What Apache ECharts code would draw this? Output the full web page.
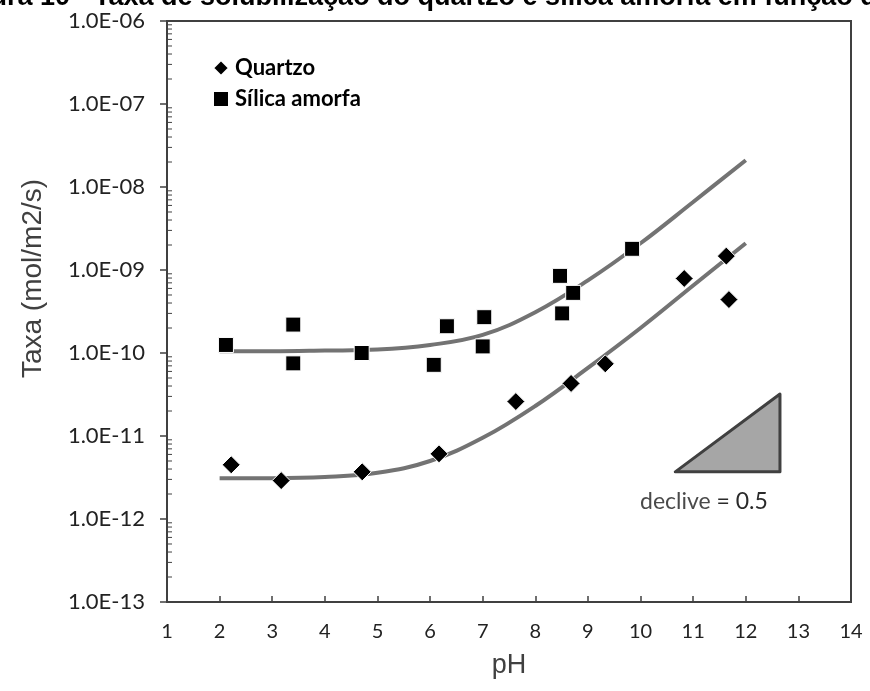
<!DOCTYPE html>
<html>
<head>
<meta charset="utf-8">
<script src="https://cdn.jsdelivr.net/npm/echarts@6/dist/echarts.min.js"></script>
<style>html,body{margin:0;padding:0;background:#fff}#c{width:870px;height:691px}</style>
</head>
<body>
<div id="c"></div>
<script>
// ---- data ----
const titleText = 'Figura 10 - Taxa de solubilização do quartzo e sílica amorfa em função do pH';
const quartzPH   = [2.22, 3.17, 4.71, 6.17, 7.63, 8.68, 9.33, 10.83, 11.63, 11.68];
const quartzRate = [4.5e-12, 2.9e-12, 3.7e-12, 6.1e-12, 2.6e-11, 4.3e-11, 7.4e-11, 7.9e-10, 1.47e-9, 4.4e-10];
const silicaPH   = [2.12, 3.4, 3.4, 4.7, 6.07, 6.32, 7.03, 7.0, 8.47, 8.72, 8.51, 9.84];
const silicaRate = [1.25e-10, 2.2e-10, 7.5e-11, 1.0e-10, 7.2e-11, 2.1e-10, 2.7e-10, 1.2e-10, 8.5e-10, 5.3e-10, 3.0e-10, 1.8e-9];
const curvePH         = [2, 3, 4, 5, 6, 7, 8, 9, 10, 11, 12];
const silicaCurveRate = [1.05e-10, 1.05e-10, 1.07e-10, 1.1e-10, 1.25e-10, 1.65e-10, 3.1e-10, 7.5e-10, 2.1e-9, 6.6e-9, 2.1e-8];
const quartzCurveRate = [3.1e-12, 3.1e-12, 3.2e-12, 3.6e-12, 5.0e-12, 9.5e-12, 2.3e-11, 6.6e-11, 2.0e-10, 6.5e-10, 2.1e-9];
const trianglePH   = [10.66, 12.65, 12.65];
const triangleRate = [3.7e-12, 3.2e-11, 3.7e-12];
const xTicks = [1, 14, 1];          // min, max, interval
const yTicks = [1e-13, 1e-6];       // min, max
const slopeLabel = ['declive', ' = 0.5'];
const seriesNames = ['Quartzo', 'Sílica amorfa'];
const yName = 'Taxa (mol/m2/s)';
const xName = 'pH';

const zip = (a, b) => a.map((v, i) => [v, b[i]]);

// minor tick values (axis decoration, log-spaced)
const minorTicks = [];
for (let e = -13; e < -6; e++) for (let m = 2; m <= 9; m++) minorTicks.push(m * Math.pow(10, e));

const labelFont = 'Lato, "Open Sans", sans-serif';
const arial = '"Liberation Sans", Arial, sans-serif';
const chart = echarts.init(document.getElementById('c'), null, {renderer: 'canvas'});
chart.setOption({
  animation: false,
  backgroundColor: '#fff',
  title: {
    text: titleText, left: -55, top: -21,
    textStyle: {fontFamily: arial, fontWeight: 'bold', fontSize: 27, color: '#000'}
  },
  grid: {left: 167, right: 19, top: 21, bottom: 89, show: true, borderColor: '#404040', borderWidth: 2, backgroundColor: 'transparent'},
  legend: {
    orient: 'vertical', left: 207, top: 52, itemWidth: 16, itemHeight: 16, itemGap: 9,
    data: [{name: seriesNames[0], icon: 'diamond'}, {name: seriesNames[1], icon: 'rect'}],
    itemStyle: {color: '#000', opacity: 1},
    textStyle: {fontFamily: labelFont, fontWeight: 'bold', fontSize: 22, color: '#000', padding: [0, 0, 0, 1]}
  },
  xAxis: {
    type: 'value', min: xTicks[0], max: xTicks[1], interval: xTicks[2],
    name: xName, nameLocation: 'middle', nameGap: 50,
    nameTextStyle: {fontFamily: arial, fontSize: 27, color: '#404040'},
    axisLine: {lineStyle: {color: '#404040', width: 2}},
    axisTick: {inside: true, length: 6, lineStyle: {color: '#404040', width: 1.5}},
    axisLabel: {fontFamily: labelFont, fontSize: 20, color: '#222', margin: 20},
    splitLine: {show: false}
  },
  yAxis: {
    type: 'log', logBase: 10, min: yTicks[0], max: yTicks[1],
    name: yName, nameLocation: 'middle', nameGap: 120, nameRotate: 90,
    nameTextStyle: {fontFamily: arial, fontSize: 28, color: '#404040', padding: [0, 0, 0, 66]},
    axisLine: {show: true, lineStyle: {color: '#404040', width: 2}},
    axisTick: {show: true, length: 7, lineStyle: {color: '#404040', width: 1.5}},
    axisLabel: {
      fontFamily: labelFont, fontSize: 22, color: '#222', margin: 22,
      formatter: v => { const e = Math.round(Math.log10(v)); return '1.0E' + (e < 0 ? '-' : '+') + String(Math.abs(e)).padStart(2, '0'); }
    },
    splitLine: {show: false}
  },
  graphic: [{
    type: 'text', left: 640, top: 490,
    style: {
      text: '{a|' + slopeLabel[0] + '}{b|' + slopeLabel[1] + '}',
      rich: {
        a: {fontFamily: labelFont, fontSize: 23, fill: '#4a4a4a'},
        b: {fontFamily: labelFont, fontSize: 23, fill: '#2a2a2a'}
      }
    }
  }],
  series: [
    {
      name: 'silicaCurve', type: 'line', data: zip(curvePH, silicaCurveRate), smooth: 0.4, showSymbol: false,
      lineStyle: {color: '#737373', width: 4}, z: 2, silent: true
    },
    {
      name: 'quartzCurve', type: 'line', data: zip(curvePH, quartzCurveRate), smooth: 0.4, showSymbol: false,
      lineStyle: {color: '#737373', width: 4}, z: 2, silent: true
    },
    {
      name: seriesNames[0], type: 'scatter', symbol: 'diamond', symbolSize: 18,
      data: zip(quartzPH, quartzRate),
      itemStyle: {color: '#000', opacity: 1, borderColor: '#fff', borderWidth: 1}, z: 5
    },
    {
      name: seriesNames[1], type: 'scatter', symbol: 'rect', symbolSize: 15,
      data: zip(silicaPH, silicaRate),
      itemStyle: {color: '#000', opacity: 1, borderColor: '#fff', borderWidth: 1}, z: 5
    },
    {
      name: 'triangle', type: 'custom', data: [0], z: 3, silent: true,
      renderItem: (params, api) => {
        const pts = trianglePH.map((x, i) => api.coord([x, triangleRate[i]]));
        return {type: 'polygon', shape: {points: pts}, style: {fill: '#a6a6a6', stroke: '#404040', lineWidth: 3, lineJoin: 'round'}};
      }
    },
    {
      name: 'minorTicks', type: 'custom', data: minorTicks.map(v => [xTicks[0], v]), z: 4, silent: true,
      renderItem: (params, api) => {
        const p = api.coord([api.value(0), api.value(1)]);
        return {type: 'line', shape: {x1: p[0], y1: p[1], x2: p[0] + 5, y2: p[1]}, style: {stroke: '#404040', lineWidth: 1}};
      }
    }
  ]
});
</script>
</body>
</html>
